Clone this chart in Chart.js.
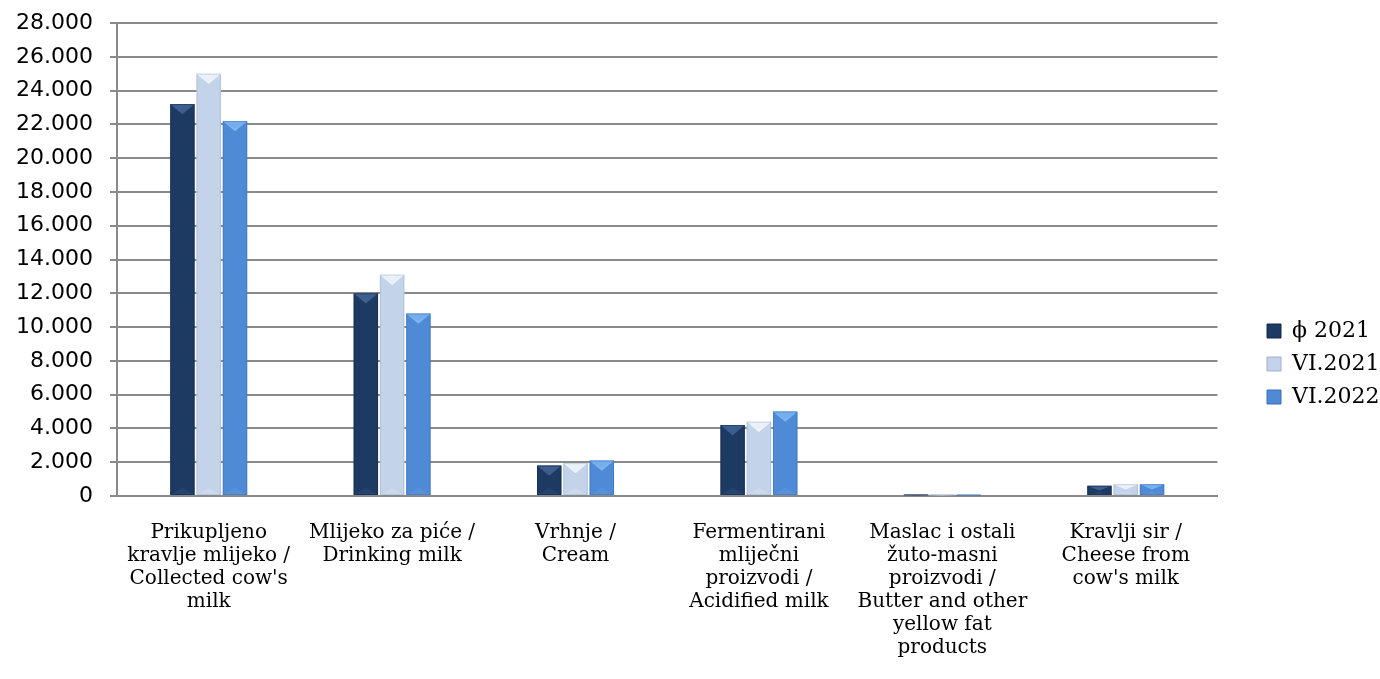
<!DOCTYPE html>
<html>
<head>
<meta charset="utf-8">
<script src="https://cdn.jsdelivr.net/npm/chart.js@4.4.1/dist/chart.umd.min.js"></script>
<style>
  html, body { margin: 0; padding: 0; background: #ffffff; }
  #wrap { width: 1380px; height: 679px; position: relative; }
</style>
</head>
<body>
<div id="wrap"><canvas id="c" width="1380" height="679"></canvas></div>
<script>
const categories = [
  ["Prikupljeno", "kravlje mlijeko /", "Collected cow's", "milk"],
  ["Mlijeko za piće /", "Drinking milk"],
  ["Vrhnje /", "Cream"],
  ["Fermentirani", "mliječni", "proizvodi /", "Acidified milk"],
  ["Maslac i ostali", "žuto-masni", "proizvodi /", "Butter and other", "yellow fat", "products"],
  ["Kravlji sir /", "Cheese from", "cow's milk"]
];
const seriesNames = ["ϕ 2021", "VI.2021", "VI.2022"];
const avg2021 = [23200, 12000, 1800, 4200, 80, 600];
const jun2021 = [25000, 13100, 1950, 4400, 70, 700];
const jun2022 = [22200, 10800, 2100, 5000, 60, 700];
const yTicks = [0, 2000, 4000, 6000, 8000, 10000, 12000, 14000, 16000, 18000, 20000, 22000, 24000, 26000, 28000];

const palette = [
  { base: "#1d3a63", dark: "#13284a", light: "#3d5f8f", top: "#4a6c9c" },
  { base: "#c3d3e9", dark: "#9fb3cf", light: "#e3ecf7", top: "#ffffff" },
  { base: "#4f8ad6", dark: "#3a6fb5", light: "#72a7ea", top: "#8ec4f7" }
];

function fmt(v) {
  return String(v).replace(/\B(?=(\d{3})+(?!\d))/g, ".");
}

function barGradient(ctx, i) {
  const chart = ctx.chart;
  const el = ctx.element;
  const p = palette[i];
  if (!el || el.width === undefined || !isFinite(el.x)) return p.base;
  const l = el.x - el.width / 2, r = el.x + el.width / 2;
  const g = chart.ctx.createLinearGradient(l, 0, r, 0);
  g.addColorStop(0, p.dark);
  g.addColorStop(0.15, p.base);
  g.addColorStop(0.85, p.base);
  g.addColorStop(1, p.dark);
  return g;
}

const bevelPlugin = {
  id: "bevel",
  afterDatasetsDraw(chart) {
    const c = chart.ctx;
    chart.data.datasets.forEach((ds, i) => {
      const meta = chart.getDatasetMeta(i);
      const p = palette[i];
      meta.data.forEach(bar => {
        const w = bar.width;
        const l = bar.x - w / 2, r = bar.x + w / 2;
        const t = bar.y, b = bar.base;
        const h = b - t;
        const bh = Math.min(w * 0.42, h / 2);
        c.save();
        c.beginPath();
        c.moveTo(l, t); c.lineTo(r, t); c.lineTo(bar.x, t + bh); c.closePath();
        c.fillStyle = p.top; c.globalAlpha = 0.75; c.fill();
        c.beginPath();
        c.moveTo(l + 2, t + 1); c.lineTo(r - 2, t + 1); c.lineTo(bar.x, t + bh * 0.75); c.closePath();
        c.fillStyle = p.light; c.globalAlpha = 0.6; c.fill();
        c.beginPath();
        c.moveTo(l, b); c.lineTo(r, b); c.lineTo(bar.x, b - bh * 0.7); c.closePath();
        c.fillStyle = p.light; c.globalAlpha = 0.25; c.fill();
        c.globalAlpha = 0.5;
        c.strokeStyle = p.dark; c.lineWidth = 1;
        c.strokeRect(l + 0.5, t + 0.5, w - 1, h - 1);
        c.restore();
      });
    });
  },
  afterLayout(chart) {
    const lg = chart.legend;
    if (lg) {
      const dx = 1256 - lg.left;
      lg.left += dx; lg.right += dx;
      lg.top += 13; lg.bottom += 13;
    }
  }
};

new Chart(document.getElementById("c"), {
  type: "bar",
  data: {
    labels: categories,
    datasets: [
      { label: seriesNames[0], data: avg2021, backgroundColor: c => barGradient(c, 0) },
      { label: seriesNames[1], data: jun2021, backgroundColor: c => barGradient(c, 1) },
      { label: seriesNames[2], data: jun2022, backgroundColor: c => barGradient(c, 2) }
    ]
  },
  options: {
    responsive: false,
    animation: false,
    devicePixelRatio: 1,
    layout: { padding: { top: 23, right: 29, left: 0, bottom: 0 } },
    datasets: { bar: { categoryPercentage: 0.43, barPercentage: 0.93 } },
    plugins: {
      tooltip: { enabled: false },
      legend: {
        position: "right",
        labels: {
          boxWidth: 14,
          boxHeight: 14,
          padding: 11,
          color: "#000000",
          font: { family: "DejaVu Serif", size: 22 },
          generateLabels(chart) {
            return chart.data.datasets.map((ds, i) => ({
              text: ds.label,
              fillStyle: palette[i].base,
              strokeStyle: palette[i].dark,
              lineWidth: 1,
              datasetIndex: i,
              hidden: false
            }));
          }
        }
      }
    },
    scales: {
      x: {
        grid: { display: false },
        border: { display: true, color: "#8a8a8a", width: 2 },
        ticks: {
          color: "#000000",
          padding: 17,
          maxRotation: 0,
          autoSkip: false,
          font: { family: "DejaVu Serif", size: 20, lineHeight: "23px" }
        },
        afterFit(s) { s.height = 183; s.paddingLeft = 0; s.paddingRight = 0; }
      },
      y: {
        min: 0,
        max: 28000,
        afterBuildTicks(s) { s.ticks = yTicks.map(v => ({ value: v })); },
        grid: { color: "#8a8a8a", lineWidth: 2, tickLength: 7, drawTicks: true },
        border: { display: true, color: "#8a8a8a", width: 2 },
        ticks: {
          color: "#000000",
          padding: 17,
          font: { family: "DejaVu Sans", size: 22 },
          callback: v => fmt(v)
        },
        afterFit(s) { s.width = 117; s.paddingTop = 0; s.paddingBottom = 0; }
      }
    }
  },
  plugins: [bevelPlugin]
});
</script>
</body>
</html>
